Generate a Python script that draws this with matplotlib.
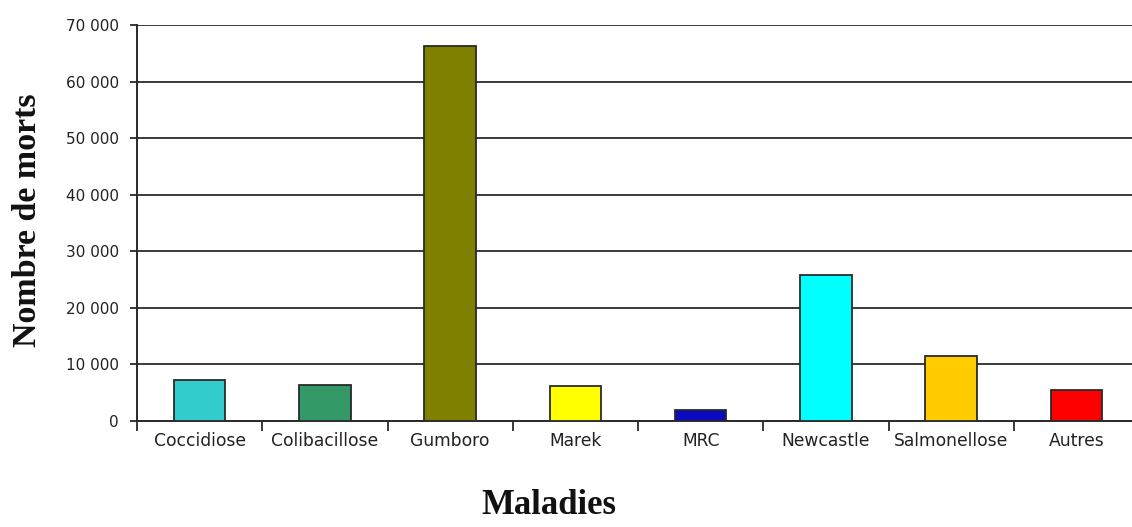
import matplotlib
matplotlib.use("Agg")
import matplotlib.pyplot as plt
from matplotlib.ticker import FixedLocator, FuncFormatter

# Data: number of deaths per disease
maladies = ["Coccidiose", "Colibacillose", "Gumboro", "Marek", "MRC",
            "Newcastle", "Salmonellose", "Autres"]
morts = [7200, 6300, 66200, 6100, 2000, 25800, 11500, 5400]
couleurs = ["#33CCCC", "#339966", "#808000", "#FFFF00", "#0A0AC0",
            "#00FFFF", "#FFCC00", "#FF0000"]
y_ticks = [0, 10000, 20000, 30000, 40000, 50000, 60000, 70000]

fig = plt.figure(figsize=(11.32, 5.27), dpi=100)
ax = fig.add_axes([137 / 1132, 106 / 527, 1002 / 1132, 396 / 527])

x = list(range(len(maladies)))
ax.bar(x, morts, width=0.41, color=couleurs, edgecolor="#2a2a2a",
       linewidth=1.3, zorder=3)

ax.set_xlim(-0.5, len(maladies) - 0.5)
ax.set_ylim(0, 70000)

# Horizontal gridlines
ax.set_yticks(y_ticks)
ax.yaxis.set_major_formatter(FuncFormatter(lambda v, p: f"{int(v):,}".replace(",", " ")))
ax.grid(axis="y", color="#3a3a3a", linewidth=1.4, zorder=1)
ax.tick_params(axis="y", direction="out", length=5, width=1.3, color="#2a2a2a",
               pad=8, labelsize=11, labelcolor="#222222")
for lab in ax.get_yticklabels():
    lab.set_family("DejaVu Sans")

# Category labels centred under bars, tick marks between categories
ax.set_xticks(x)
ax.set_xticklabels(maladies, fontsize=12.3, color="#222222", family="DejaVu Sans")
ax.tick_params(axis="x", which="major", length=0, pad=8)
ax.xaxis.set_minor_locator(FixedLocator([i - 0.5 for i in range(len(maladies))]))
ax.tick_params(axis="x", which="minor", direction="out", length=7, width=1.3,
               color="#2a2a2a")

for s in ["top", "right"]:
    ax.spines[s].set_visible(False)
for s in ["left", "bottom"]:
    ax.spines[s].set_color("#2a2a2a")
    ax.spines[s].set_linewidth(1.4)

fig.text(28 / 1132, 1 - 220 / 527, "Nombre de morts", rotation=90,
         ha="center", va="center", fontsize=24.5, fontweight="bold",
         family="Liberation Serif", color="#111111")
fig.text(549 / 1132, 1 - 505 / 527, "Maladies", ha="center", va="center",
         fontsize=25, fontweight="bold", family="Liberation Serif",
         color="#111111")

fig.savefig("out.png", dpi=100)
